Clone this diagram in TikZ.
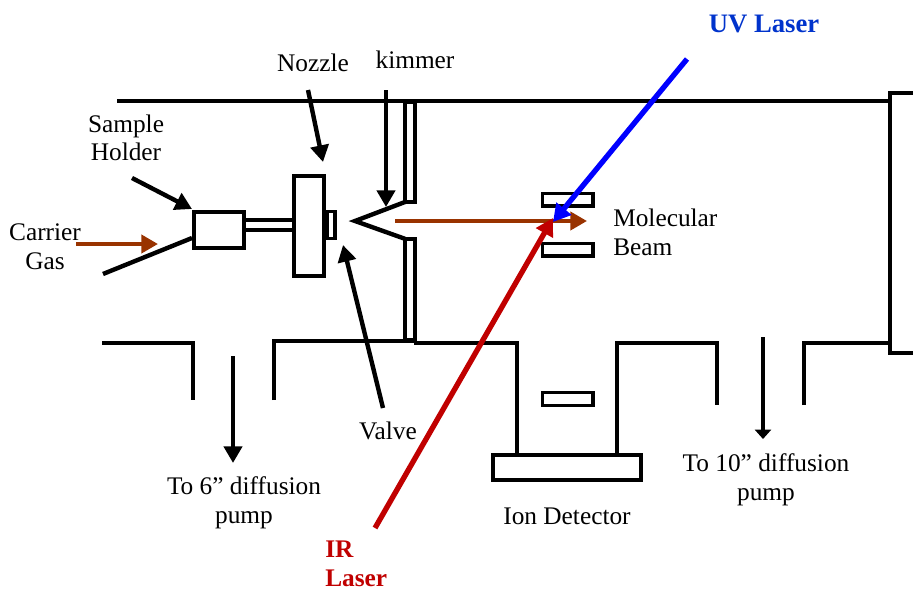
\documentclass[tikz,border=0pt]{standalone}
\usepackage{fontspec}
\setmainfont{Liberation Serif}
\usetikzlibrary{arrows.meta}

\definecolor{beambrown}{HTML}{993300}
\definecolor{uvblue}{HTML}{0000FF}
\definecolor{uvtext}{HTML}{0033CC}
\definecolor{irred}{HTML}{C00000}

\tikzset{
    wall/.style = {line width=3.3pt, line join=miter},
    partbox/.style = {draw, line width=3pt, fill=white, inner sep=0pt, outer sep=0pt},
    platebox/.style = {draw, line width=2.5pt, fill=white, inner sep=0pt, minimum width=38pt, minimum height=9.5pt},
    txt/.style = {inner sep=0pt, align=center, font=\fontsize{19}{21.5}\selectfont},
    ptr/.style = {line width=3.3pt, -{Triangle[length=12.5pt,width=13.5pt]}},
    beam/.style = {line width=3pt, beambrown, -{Triangle[length=12.5pt,width=13.5pt]}},
    laser/.style = {line width=4pt, -{Triangle[length=13pt,width=14pt]}}
}

\begin{document}
\begin{tikzpicture}[x=0.75pt, y=-0.75pt]
    \useasboundingbox (0,0) rectangle (913,592);

    % draw chamber walls
    \draw[wall] (117,101) -- (889,101);
    \draw[wall] (913,93) -- (890,93) -- (890,353) -- (913,353);
    \draw[wall] (102,343) -- (193,343) -- (193,400);
    \draw[wall] (274,400) -- (274,341) -- (414,341);
    \draw[wall] (414,343) -- (517,343) -- (517,455);
    \draw[wall] (617,455) -- (617,343) -- (717,343) -- (717,405);
    \draw[wall] (804,405) -- (804,343) -- (889,343);

    % draw skimmer
    \node[partbox, line width=2.8pt, minimum width=7.5pt, minimum height=75pt] (upperplate) at (410,152) {};
    \node[partbox, line width=2.8pt, minimum width=7.5pt, minimum height=76pt] (lowerplate) at (410,289.5) {};
    \coordinate (conetip) at (355,221);
    \draw[wall] (upperplate.south west) -- (conetip) -- (lowerplate.north west);

    % draw source
    \node[partbox, minimum width=38pt, minimum height=27pt] (holder) at (219,230) {};
    \node[partbox, minimum width=23pt, minimum height=75pt] (nozzle) at (309,225.5) {};
    \node[partbox, line width=2.6pt, minimum width=6pt, minimum height=20pt] (valve) at (331,225) {};
    \foreach \y in {220,230}
        \draw[line width=3pt] (holder.east |- 0,\y) -- (nozzle.west |- 0,\y);
    \coordinate (gasline) at (103,274);
    \draw[wall] (gasline) -- (192,238);

    % draw ion plates
    \foreach \name/\y in {platea/199.5,plateb/249.5,platec/399}
        \node[platebox] (\name) at (567.5,\y) {};
    \node[partbox, minimum width=111pt, minimum height=19pt] (detector) at (567,467.5) {};

    % draw labels
    \node[txt] (nozzlelabel) at (313,63) {Nozzle};
    \node[txt] (skimmerlabel) at (415,60) {kimmer};
    \node[txt] (holderlabel) at (126,138) {Sample\\Holder};
    \node[txt] (gaslabel) at (45,247) {Carrier\\Gas};
    \node[txt, font=\fontsize{20}{22}\selectfont\bfseries, text=uvtext] (uvlabel) at (764,24) {UV Laser};
    \node[txt, align=left, anchor=west] (beamlabel) at (613,232) {Molecular\\Beam};
    \node[txt] (valvelabel) at (388,431) {Valve};
    \node[txt] (pumpa) at (244,502.5) {To 6” diffusion\\pump};
    \node[txt] (iondet) at (567,516) {Ion Detector};
    \node[txt] (pumpb) at (766,479.5) {To 10” diffusion\\pump};
    \node[txt, align=left, anchor=west, font=\fontsize{19}{21.5}\selectfont\bfseries, text=irred] (irlabel) at (325,564) {IR\\Laser};

    % draw arrows
    \coordinate (holdertail) at (132,178);
    \coordinate (holdertip) at (192,209);
    \draw[ptr] (holdertail) -- (holdertip);
    \coordinate (nozzletail) at (308,90);
    \coordinate (nozzletip) at (323,162);
    \draw[ptr] (nozzletail) -- (nozzletip);
    \coordinate (skimmertail) at (386,90);
    \coordinate (skimmertip) at (386,207);
    \draw[ptr] (skimmertail) -- (skimmertip);
    \coordinate (valvetail) at (383,408);
    \coordinate (valvetip) at (343,245);
    \draw[ptr] (valvetail) -- (valvetip);
    \coordinate (pumpatail) at (233,356);
    \coordinate (pumpatip) at (233,463);
    \draw[ptr] (pumpatail) -- (pumpatip);
    \coordinate (pumpbtail) at (763,337);
    \coordinate (pumpbtip) at (763,439);
    \draw[ptr, -{Triangle[length=7pt,width=12pt]}] (pumpbtail) -- (pumpbtip);

    \coordinate (gastail) at (76,244);
    \coordinate (gastip) at (158,244);
    \draw[beam] (gastail) -- (gastip);
    \coordinate (beamtail) at (395,221);
    \coordinate (beamtip) at (587,221);
    \draw[beam] (beamtail) -- (beamtip);

    \coordinate (irtail) at (375,528);
    \coordinate (laserspot) at (553,218);
    \draw[laser, irred] (irtail) -- (laserspot);
    \coordinate (uvtail) at (687,59);
    \coordinate (uvtip) at (553,222);
    \draw[laser, uvblue] (uvtail) -- (uvtip);
\end{tikzpicture}
\end{document}
